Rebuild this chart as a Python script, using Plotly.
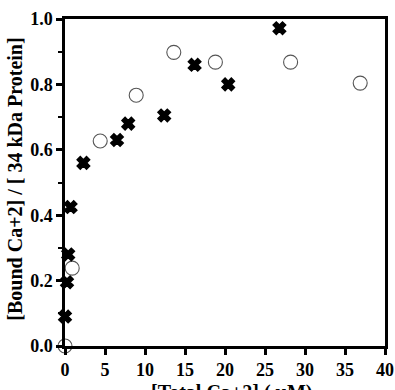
import plotly.graph_objects as go

cross_x = [0.0, 0.25, 0.4, 0.7, 2.3, 6.5, 7.9, 12.4, 16.2, 20.4, 26.8]
cross_y = [0.09, 0.195, 0.28, 0.425, 0.56, 0.63, 0.68, 0.705, 0.86, 0.80, 0.972]

circ_x = [0.0, 0.9, 4.4, 8.9, 13.6, 18.8, 28.2, 36.9]
circ_y = [0.0, 0.238, 0.627, 0.767, 0.898, 0.868, 0.868, 0.804]

x_ticks = [0, 5, 10, 15, 20, 25, 30, 35, 40]
y_ticks = [0.0, 0.2, 0.4, 0.6, 0.8, 1.0]

FAM = "Liberation Serif"
tfont = dict(family=FAM, size=18, color="black", weight=700)

fig = go.Figure()
fig.add_trace(go.Scatter(
    x=circ_x, y=circ_y, mode="markers", cliponaxis=False,
    marker=dict(symbol="circle-open", size=14, color="#555555", line=dict(width=1.1)),
))
fig.add_trace(go.Scatter(
    x=cross_x, y=cross_y, mode="markers", cliponaxis=False,
    marker=dict(symbol="x", size=11, color="black", line=dict(width=1.5, color="black")),
))

fig.update_layout(
    width=395, height=390,
    margin=dict(l=65, r=1, t=19, b=44),
    plot_bgcolor="white", paper_bgcolor="white",
    showlegend=False,
    font=dict(family=FAM, size=14, color="black"),
)
fig.update_xaxes(
    range=[0, 40], tickvals=x_ticks, ticktext=[str(v) for v in x_ticks],
    showgrid=False, zeroline=False, showline=True, linecolor="black", linewidth=2.5,
    mirror=True, ticks="outside", ticklen=6, tickwidth=2.5, tickcolor="black",
    tickfont=tfont, ticklabeloverflow="allow",
)
fig.update_yaxes(
    range=[0, 1.0], tickvals=y_ticks, ticktext=["%.1f" % v for v in y_ticks],
    showgrid=False, zeroline=False, showline=True, linecolor="black", linewidth=2.5,
    mirror=True, ticks="outside", ticklen=6, tickwidth=2.5, tickcolor="black",
    tickfont=tfont,
    minor=dict(dtick=0.1, ticks="outside", ticklen=4, tickwidth=1.5, tickcolor="black"),
)
fig.add_annotation(
    text="[Bound Ca+2] / [ 34 kDa Protein]", textangle=-90,
    xref="paper", yref="paper", x=-0.155, y=0.51, xanchor="center", yanchor="middle",
    showarrow=False, font=dict(family=FAM, size=20, color="black", weight=700),
)
fig.add_annotation(
    text="[Total Ca+2] ( μM)",
    xref="paper", yref="paper", x=0.52, y=-0.1, xanchor="center", yanchor="top",
    showarrow=False, font=dict(family=FAM, size=20, color="black", weight=700),
)
fig.write_html("out.html")
